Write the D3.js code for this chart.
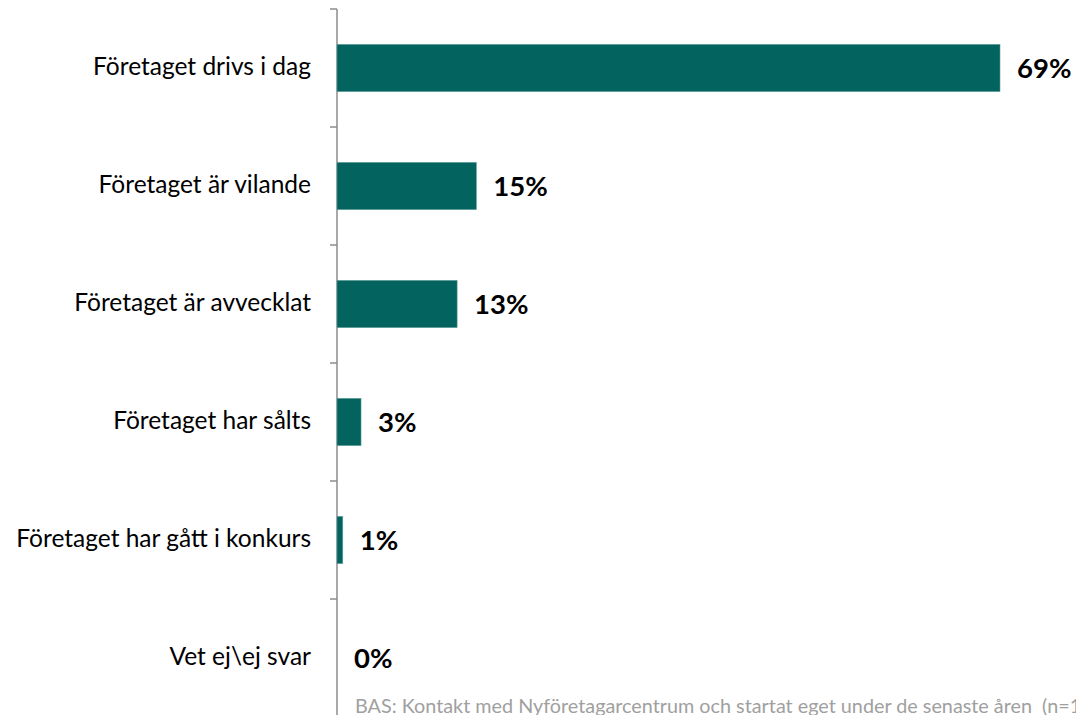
<!DOCTYPE html>
<html><head><meta charset="utf-8">
<script src="https://cdn.jsdelivr.net/npm/d3@7"></script>
<style>body{margin:0;background:#fff;} svg{display:block;}</style>
</head><body>
<svg id="chart" width="1076" height="715"></svg>
<script>
const categories = ["Företaget drivs i dag","Företaget är vilande","Företaget är avvecklat","Företaget har sålts","Företaget har gått i konkurs","Vet ej\\ej svar"];
const values = [69, 14.5, 12.5, 2.5, 0.6, 0];
const valueLabels = ["69%","15%","13%","3%","1%","0%"];
const footnote = "BAS: Kontakt med Nyföretagarcentrum och startat eget under de senaste åren\u00a0\u00a0(n=1";

const svg = d3.select("#chart");
const font = "Lato, 'Open Sans', sans-serif";
const x = d3.scaleLinear().domain([0, 69]).range([337, 1000]);
const y = d3.scaleBand().domain(categories).range([9, 717]).paddingInner(0.6).paddingOuter(0.3);

const g = svg.append("g").attr("transform","translate(337,0)");
g.append("line").attr("x1",0).attr("x2",0).attr("y1",9).attr("y2",715).attr("stroke","#8c8c8c").attr("stroke-width",1.5);
const step = y.step();
const bounds = d3.range(categories.length).map(i => y(categories[i]) - (step - y.bandwidth())/2);
g.selectAll(".bt").data(bounds).join("line")
  .attr("x1",-7).attr("x2",0).attr("y1",d=>d).attr("y2",d=>d)
  .attr("stroke","#8c8c8c").attr("stroke-width",1.5);

const axis = d3.axisLeft(y).tickSize(0).tickPadding(26).tickSizeOuter(0);
const ax = svg.append("g").attr("transform","translate(337,0)").call(axis);
ax.select(".domain").remove();
ax.selectAll("text").attr("font-family",font).attr("font-size",24.5).attr("fill","#000").attr("dy","0.3em");

svg.selectAll("rect.bar").data(values).join("rect").attr("class","bar")
  .attr("x", x(0)).attr("y",(d,i)=>y(categories[i]))
  .attr("width", d => x(d)-x(0)).attr("height", y.bandwidth())
  .attr("fill","#02635f").attr("stroke","#5f9c99").attr("stroke-width",0.6);

svg.selectAll("text.val").data(values).join("text").attr("class","val")
  .attr("x", d => x(d) + 17).attr("y",(d,i)=>y(categories[i]) + y.bandwidth()/2)
  .attr("dy","0.36em").attr("font-family",font).attr("font-weight","bold").attr("font-size",27.5)
  .attr("fill","#000").text((d,i)=>valueLabels[i]);

svg.append("text").attr("x",355).attr("y",713).attr("font-family",font).attr("font-size",19.8)
  .attr("fill","#a0a0a0").text(footnote);
</script>
</body></html>
